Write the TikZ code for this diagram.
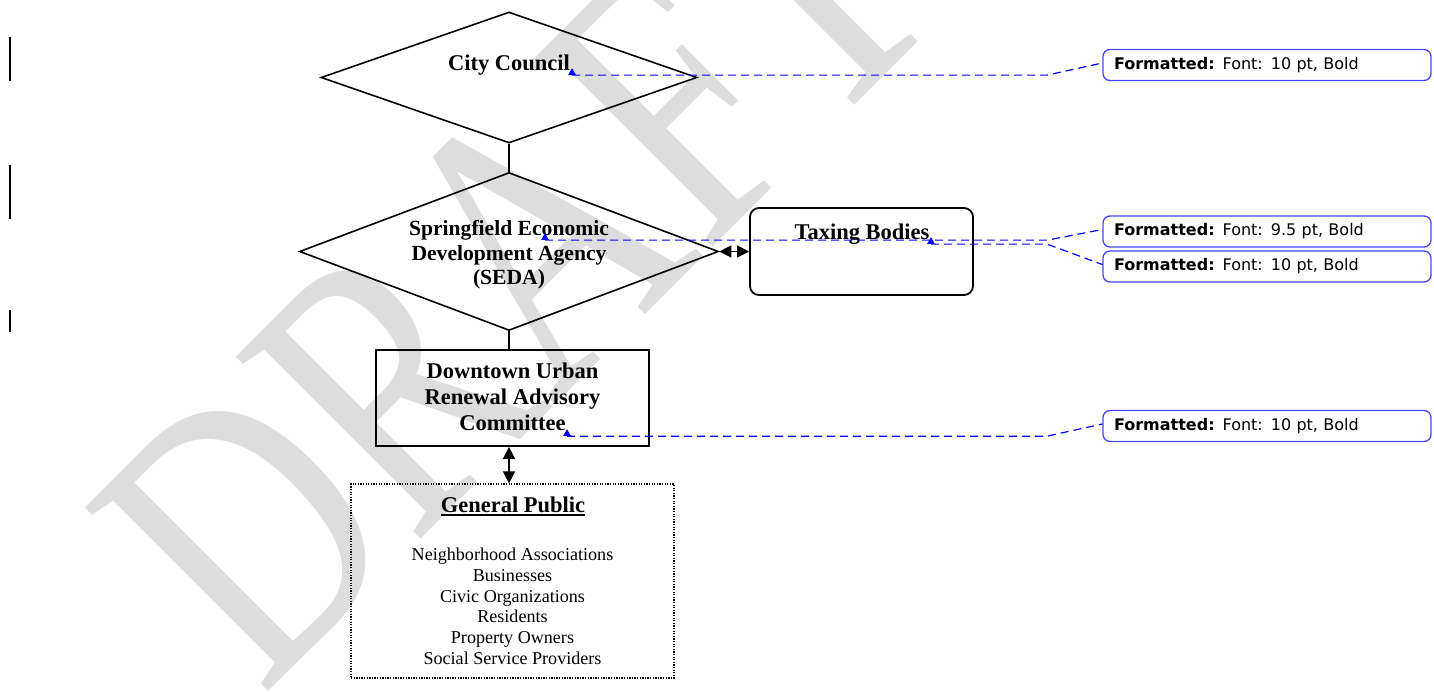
\documentclass[tikz,border=0pt]{standalone}
\usepackage{fontspec}
\setmainfont{Liberation Serif}
\newfontfamily\fmtfont{DejaVu Sans}
\usetikzlibrary{shapes.geometric,arrows.meta}
\definecolor{fmtblue}{RGB}{70,70,255}
\definecolor{markblue}{RGB}{0,0,255}
\definecolor{wmgray}{RGB}{221,221,221}
\begin{document}
\begin{tikzpicture}[x=1pt,y=-1pt,
  dia/.style={draw, shape=diamond, line width=1.6pt, inner sep=0pt},
  boxA/.style={draw, line width=1.8pt, inner sep=0pt},
  gpbox/.style={draw, line width=1.2pt, dash pattern=on 1.3pt off 1.3pt, inner sep=0pt, minimum width=323pt, minimum height=194pt},
  btext/.style={inner sep=0pt, align=center, font=\bfseries\fontsize{22.5}{26.2}\selectfont},
  conn/.style={line width=1.4pt},
  dbl/.style={line width=1.4pt, {Triangle[length=12pt,width=12pt]}-{Triangle[length=12pt,width=12pt]}},
  bluetri/.style={regular polygon, regular polygon sides=3, fill=markblue, inner sep=0pt, minimum size=9pt},
  fmtline/.style={draw=markblue, line width=1.2pt, dash pattern=on 8pt off 5pt},
  fmtbox/.style={draw=fmtblue, line width=1.3pt, rounded corners=7pt, minimum height=31pt, text width=306pt, inner xsep=11pt, inner ysep=0pt, align=left, font=\fmtfont\fontsize{16}{19}\selectfont},
  chbar/.style={line width=2pt}
]
\useasboundingbox (0,0) rectangle (1434,692);

% watermark
\node[rotate=45, xscale=0.75, anchor=base west, inner sep=0pt, text=wmgray, font=\fontsize{396}{396}\selectfont] (wmark) at (262,698) {DRAFT};

% change bars
\draw[chbar] (10,37) -- (10,81);
\draw[chbar] (10,165) -- (10,219);
\draw[chbar] (10,310) -- (10,332);

% main shapes
\node[dia, minimum width=376pt, minimum height=131pt] (cc) at (509,77.5) {};
\node[btext, anchor=base] (cct) at (509,71) {City Council};

\node[dia, minimum width=419pt, minimum height=158pt] (seda) at (509,251.5) {};
\node[btext, font=\bfseries\fontsize{21.6}{24.5}\selectfont] (sedat) at (509,255) {Springfield Economic\\Development Agency\\(SEDA)};

\node[boxA, rounded corners=9pt, minimum width=223pt, minimum height=87pt] (tax) at (861.5,251.5) {};
\node[btext, anchor=base] (taxt) at (862,239.3) {Taxing Bodies};

\node[boxA, minimum width=273pt, minimum height=96pt] (durac) at (512.5,398) {};
\node[btext] (durt) at (512.5,397) {Downtown Urban\\Renewal Advisory\\Committee};

\node[gpbox] (gp) at (512.5,581) {};
\node[btext, anchor=base] (gpt) at (513,512.5) {General Public};
\draw[line width=2pt] ([yshift=-2.5pt]gpt.base west) -- ([yshift=-2.5pt]gpt.base east);
\node[inner sep=0pt, align=center, font=\fontsize{18.1}{20.7}\selectfont] (gpl) at (512.5,606.3) {Neighborhood Associations\\Businesses\\Civic Organizations\\Residents\\Property Owners\\Social Service Providers};

% connectors
\draw[conn] (cc.south) -- (seda.north);
\draw[conn] (seda.south) -- (seda.south |- durac.north);
\draw[dbl] (seda.east) -- (tax.west);
\draw[dbl] (seda.south |- durac.south) -- (seda.south |- gp.north);

% formatting comments
\node[fmtbox] (f1) at (1267,65) {\textbf{Formatted:} Font: 10 pt, Bold};
\node[fmtbox] (f2) at (1267,231.5) {\textbf{Formatted:} Font: 9.5 pt, Bold};
\node[fmtbox] (f3) at (1267,266.5) {\textbf{Formatted:} Font: 10 pt, Bold};
\node[fmtbox] (f4) at (1267,426) {\textbf{Formatted:} Font: 10 pt, Bold};

\coordinate (bend) at (1047,0);
\node[bluetri] (m1) at (572,72.7) {};
\node[bluetri] (m2) at (545,237.7) {};
\node[bluetri] (m3) at (931,241.7) {};
\node[bluetri] (m4) at (567,433.7) {};

\draw[fmtline] (m1.south) -- (m1.south -| bend) -- ([yshift=2pt]f1.west);
\draw[fmtline] (m2.south) -- (m2.south -| bend) -- ([yshift=2pt]f2.west);
\draw[fmtline] (m3.south) -- (m3.south -| bend) -- ([yshift=2pt]f3.west);
\draw[fmtline] (m4.south) -- (m4.south -| bend) -- ([yshift=2pt]f4.west);
\end{tikzpicture}
\end{document}
